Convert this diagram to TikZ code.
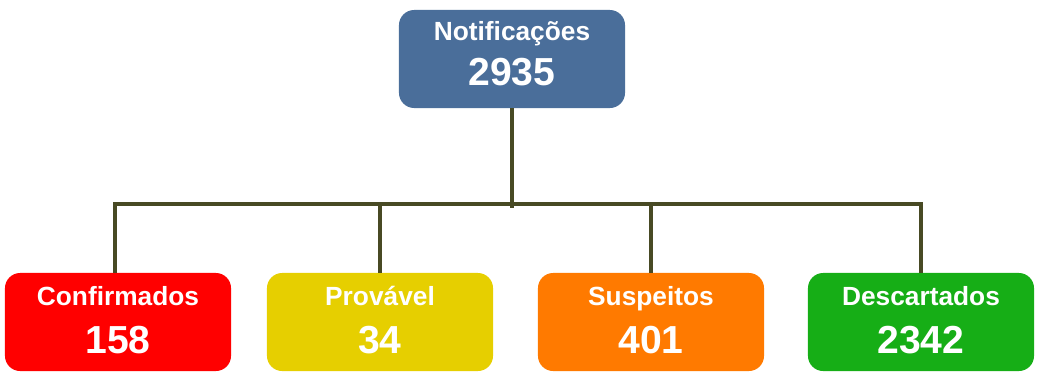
\documentclass[tikz,border=0pt]{standalone}
\usepackage{fontspec}
\setmainfont{Liberation Sans}
\usetikzlibrary{positioning}

\definecolor{notifblue}{RGB}{74,110,154}
\definecolor{confred}{RGB}{255,0,0}
\definecolor{provyellow}{RGB}{230,207,0}
\definecolor{susporange}{RGB}{255,122,0}
\definecolor{descgreen}{RGB}{22,174,22}
\definecolor{linkolive}{RGB}{72,74,36}

\tikzset{
  box/.style={rounded corners=0.38cm, minimum width=5.65cm, minimum height=2.45cm, inner sep=0pt},
  boxtitle/.style={text=white, font=\bfseries\fontsize{18.7}{20}\selectfont, anchor=base, inner sep=0pt},
  boxnum/.style={text=white, font=\bfseries\fontsize{27.8}{30}\selectfont, anchor=base, inner sep=0pt},
  link/.style={draw=linkolive, line width=2.8pt, line join=miter}
}

\begin{document}
\begin{tikzpicture}[x=0.025cm, y=-0.025cm]
  \useasboundingbox (0,0) rectangle (1040,371);
  % top box
  \node[box, fill=notifblue] (notif) at (512,59) {};
  \node[boxtitle] (notiftitle) at (512,40) {Notificações};
  \node[boxnum] (notifnum) at (512,85) {2935};
  % bottom boxes
  \foreach \n/\x/\c/\t/\v in {conf/118/confred/Confirmados/158,
      prov/380/provyellow/Provável/34,
      susp/651/susporange/Suspeitos/401,
      desc/921/descgreen/Descartados/2342}{
    \node[box, fill=\c] (\n) at (\x,322) {};
    \node[boxtitle] (\n title) at (\x,305) {\t};
    \node[boxnum] (\n num) at (\x,353) {\v};
  }
  % connectors
  \coordinate (bar) at (512,204);
  \coordinate (hub) at (512,208);
  \draw[link] (notif.south) -- (hub);
  \draw[link] ([xshift=-0.075cm]conf.north) |- (bar) -| (desc.north);
  \draw[link] (prov.north) -- (prov.north |- bar);
  \draw[link] (susp.north) -- (susp.north |- bar);
\end{tikzpicture}
\end{document}
